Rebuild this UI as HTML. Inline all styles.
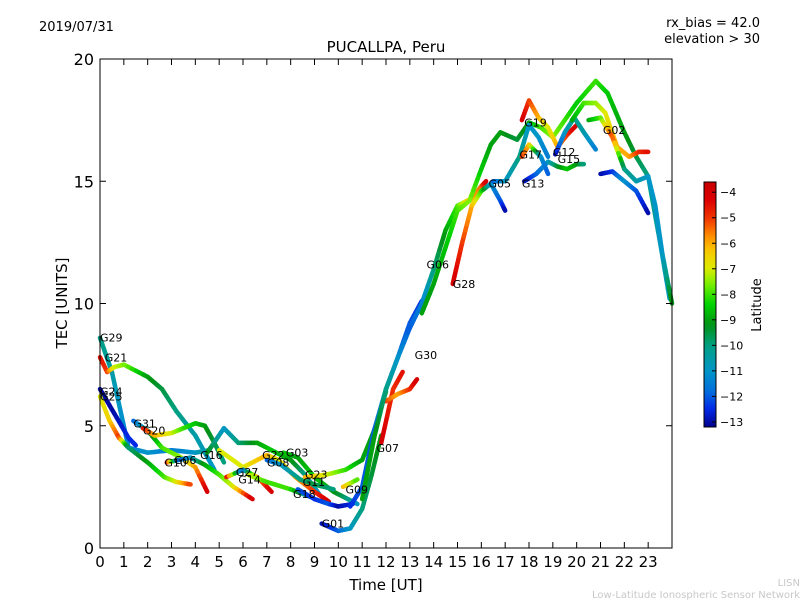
<!DOCTYPE html>
<html><head><meta charset="utf-8"><style>
body{margin:0;background:#fff;}
svg{display:block;font-family:"DejaVu Sans","Liberation Sans",sans-serif;}
</style></head><body>
<svg id="chart" width="800" height="600">
<rect width="800" height="600" fill="#fff"/>
<text x="39" y="31" font-size="13">2019/07/31</text>
<text x="760" y="27" font-size="13" text-anchor="end">rx_bias = 42.0</text>
<text x="760" y="43" font-size="13" text-anchor="end">elevation &gt; 30</text>
<text x="386" y="52" font-size="15" text-anchor="middle">PUCALLPA, Peru</text>
<text x="386" y="590" font-size="15" text-anchor="middle">Time [UT]</text>
<text transform="translate(67,303) rotate(-90)" font-size="15" text-anchor="middle">TEC [UNITS]</text>
<text x="800" y="586" font-size="10" fill="#c8c8c8" text-anchor="end">LISN</text>
<text x="800" y="598" font-size="10" fill="#c8c8c8" text-anchor="end">Low-Latitude Ionospheric Sensor Network</text>
<g id="marks"></g>
<g id="axes"></g>
<g id="cbar"></g>
<text transform="translate(761,305) rotate(-90)" font-size="13" text-anchor="middle">Latitude</text>
</svg>
<script>
const xTicks=[0,1,2,3,4,5,6,7,8,9,10,11,12,13,14,15,16,17,18,19,20,21,22,23];
const yTicks=[0,5,10,15,20];
const cbarTicks=[-4,-5,-6,-7,-8,-9,-10,-11,-12,-13];
// each track: [time, tec, latitude]
const tG29=[[0,8.6,-10],[0.5,7.2,-10.5],[1.2,4.1,-11.5],[2,3.9,-11],[3,4.0,-11.5],[4,3.9,-11],[4.6,4.0,-10]];
const tG21=[[0,7.8,-4.5],[0.3,7.2,-5],[0.6,7.4,-7],[1,7.5,-7.5],[2,7.0,-9],[2.6,6.5,-9.5],[3.2,5.6,-10],[4,4.6,-10.5],[4.8,3.2,-11]];
const tG24=[[0,6.5,-13],[0.6,5.5,-13],[1.2,4.5,-12.5],[1.5,4.2,-12.5]];
const tG25=[[0,6.2,-7],[0.4,5.2,-6.5],[0.8,4.5,-5],[1.2,4.1,-10],[2,3.5,-9],[2.7,2.9,-8],[3.2,2.7,-7],[3.8,2.6,-5]];
const tG31=[[1.4,5.2,-12],[2,4.8,-10],[2.6,4.1,-8],[3.4,3.7,-7.5],[4,3.3,-6],[4.5,2.3,-4]];
const tG20=[[1.8,4.9,-4.5],[2.3,4.6,-6],[3,4.7,-7],[3.5,4.9,-8],[4,5.1,-8.5],[4.4,5.0,-9],[4.8,4.3,-9.5],[5.2,3.5,-10]];
const tG10=[[2.8,3.5,-4],[3.3,3.6,-12],[3.8,3.7,-11],[4.4,3.4,-9],[5,3.0,-8],[5.6,2.5,-7],[6.4,2.0,-4]];
const tG16=[[4.5,3.9,-9],[5.2,4.9,-11],[5.8,4.3,-10],[6.6,4.3,-9],[7.2,4.0,-8.5],[8,3.6,-9],[8.6,3.0,-10],[9.2,2.2,-11]];
const tG22=[[5,4.0,-7],[6,3.3,-7],[7,3.8,-6],[7.5,3.6,-7],[8.2,2.9,-6],[9,2.3,-5],[9.6,1.9,-4]];
const tG03=[[7.7,3.9,-8.5],[8.3,3.7,-9],[9,2.9,-8.5],[9.8,2.3,-9],[10.4,2.0,-10],[10.8,1.8,-11]];
const tG08=[[7,3.6,-12],[7.6,3.4,-11],[8.4,2.8,-10],[9,2.6,-9.5],[9.8,2.4,-10]];
const tG27=[[5.3,2.9,-4],[6,3.2,-12],[6.6,2.9,-6],[7.2,2.3,-4]];
const tG14=[[6.2,3.0,-7],[7,2.7,-8],[8,2.4,-8],[8.8,2.1,-11]];
const tG18=[[8.3,2.4,-12],[9,2.0,-12.5],[9.6,1.8,-12],[10,1.7,-13],[10.6,1.8,-12.5]];
const tG23=[[8.6,2.9,-6],[9.5,3.0,-7],[10.3,3.2,-8],[11,3.6,-9],[11.5,4.8,-9],[12,6.4,-9]];
const tG01=[[9.3,1.0,-13],[10,0.7,-12],[10.5,0.8,-11],[11,1.6,-10],[11.4,3.0,-9.5],[11.8,4.6,-9]];
const tG09=[[10.2,2.5,-6],[10.8,2.8,-8]];
const tG07=[[11.8,4.3,-4],[12.3,6.5,-5],[12.7,7.2,-4.5]];
const tG30=[[12,6,-5],[12.5,6.3,-6],[13,6.5,-5],[13.3,6.9,-4]];
const tRise1=[[10.5,1.7,-12.5],[11,2.5,-12],[11.5,4.8,-12],[12,6.5,-11],[12.5,7.8,-12],[13,9.2,-12],[13.5,10.1,-12.5]];
const tRise2=[[11,2,-9],[11.5,4.5,-9],[12,6.5,-10],[12.5,7.8,-11],[13,9,-12],[13.5,10,-11.5],[14,11.4,-10],[14.5,13,-9],[15,14,-8],[15.6,14.3,-6],[16,14.8,-5.5],[16.2,15.0,-4]];
const tG06=[[13.5,9.6,-9],[14,10.8,-9],[14.6,12.6,-8.5],[15,13.8,-8],[15.5,14.2,-7.5],[16,15.5,-8.5],[16.4,16.5,-9],[16.8,17.0,-9],[17.5,16.7,-9.5],[18,17.4,-9],[18.5,17.2,-8],[19,16.8,-7.5],[19.5,17.5,-8],[20,18.2,-8.5],[20.8,19.1,-8],[21.3,18.6,-8.5],[22,17.0,-9],[22.5,16.0,-9.5],[23,15.2,-10],[23.5,12.5,-10.5],[23.9,10.2,-11]];
const tG28=[[14.8,10.8,-4],[15.2,12.5,-5],[15.6,14,-6],[16,14.6,-8],[16.4,14.9,-11],[16.8,14.2,-12],[17,13.8,-13]];
const tG05=[[16.5,15,-12],[17,15,-11],[17.6,16,-10],[18,17.3,-11],[18.4,16.8,-11],[18.8,16,-11.5]];
const tG13=[[17.8,15,-13],[18.3,15.3,-12],[18.8,15.8,-11],[19.2,15.6,-9.5],[19.6,15.5,-8.5],[20,15.7,-9],[20.3,15.7,-10]];
const tG19=[[17.7,17.5,-4],[18,18.3,-5],[18.4,17.6,-6],[18.8,17.2,-7],[19.2,16.4,-6],[19.6,16.9,-5],[20,17.3,-4]];
const tG17=[[17.7,16,-5],[18,16.5,-6],[18.5,16,-11],[18.8,15.3,-12]];
const tG12=[[19.1,16.1,-13],[19.5,17,-11],[19.9,17.6,-10],[20.3,17,-10.5],[20.8,16.3,-11.5]];
const tG02=[[19.8,17.5,-9],[20.3,18.2,-8],[20.8,18.2,-7.5],[21.2,17.8,-7],[21.7,16.4,-6],[22.2,16.0,-6],[22.6,16.2,-5],[23,16.2,-4.5]];
const tG02b=[[20.5,17.5,-9],[21,17.6,-8],[21.5,16.8,-5],[22,15.5,-10],[22.5,15.0,-10.5],[23,15.2,-11],[23.3,14.0,-11],[23.6,12,-11],[24,10,-9]];
const tBlue=[[21,15.3,-13],[21.5,15.4,-12.5],[22,15,-11],[22.5,14.6,-12],[23,13.7,-13]];
const tracks=[tG29,tG21,tG24,tG25,tG31,tG20,tG10,tG16,tG22,tG03,tG08,tG27,tG14,tG18,tG23,tG01,tG09,tG07,tG30,tRise1,tRise2,tG06,tG28,tG05,tG13,tG19,tG17,tG12,tG02,tG02b,tBlue];
const labelNames=["G29","G21","G24","G25","G31","G20","G10","G06","G16","G22","G03","G08","G27","G14","G18","G23","G11","G01","G09","G07","G30","G06","G28","G05","G13","G19","G17","G12","G15","G02"];
const labelT=[0,0.2,0,0,1.4,1.8,2.7,3.1,4.2,6.8,7.8,7,5.7,5.8,8.1,8.6,8.5,9.3,10.3,11.6,13.2,13.7,14.8,16.3,17.7,17.8,17.6,19,19.2,21.1];
const labelV=[8.6,7.8,6.4,6.2,5.1,4.8,3.5,3.6,3.8,3.8,3.9,3.5,3.1,2.8,2.2,3.0,2.7,1.0,2.4,4.1,7.9,11.6,10.8,14.9,14.9,17.4,16.1,16.2,15.9,17.1];

const X0=100,X1=672,Y0=548,Y1=59;
const xs=t=>X0+(X1-X0)*t/24;
const ys=v=>Y0-(Y0-Y1)*v/20;
const CB={x:704,w:12,top:182,bot:427,lo:-13.2,hi:-3.6};
const cs=l=>CB.bot-(CB.bot-CB.top)*(l-CB.lo)/(CB.hi-CB.lo);
const cmapStops=[[-13.2,[0,0,140]],[-12.5,[0,40,230]],[-11.8,[0,110,220]],[-11,[0,150,200]],[-10,[0,160,130]],[-9.2,[0,145,20]],[-8.4,[0,210,0]],[-7.6,[120,240,0]],[-7,[220,235,0]],[-6.3,[250,200,0]],[-5.7,[255,140,0]],[-5,[240,50,0]],[-4.3,[220,0,0]],[-3.6,[200,0,0]]];
function jet(l){
 if(l<=cmapStops[0][0])return `rgb(${cmapStops[0][1]})`;
 for(let i=0;i<cmapStops.length-1;i++){const a=cmapStops[i],b=cmapStops[i+1];
  if(l<=b[0]){const u=(l-a[0])/(b[0]-a[0]);const c=a[1].map((v,k)=>Math.round(v+(b[1][k]-v)*u));return `rgb(${c})`;}}
 return `rgb(${cmapStops[cmapStops.length-1][1]})`;}
const NS="http://www.w3.org/2000/svg";
function mk(tag,attrs,parent){const e=document.createElementNS(NS,tag);for(const k in attrs)e.setAttribute(k,attrs[k]);parent.appendChild(e);return e;}
const marks=document.getElementById('marks');
tracks.forEach((tr)=>{
 const g=mk('g',{},marks);
 
 
 for(let i=0;i<tr.length-1;i++){
  const a=tr[i],b=tr[i+1],n=6;
  for(let k=0;k<n;k++){
   const u0=k/n,u1=(k+1)/n;
   const l=a[2]+(b[2]-a[2])*(u0+u1)/2;
   const ln=mk('line',{x1:xs(a[0]+(b[0]-a[0])*u0),y1:ys(a[1]+(b[1]-a[1])*u0),x2:xs(a[0]+(b[0]-a[0])*u1),y2:ys(a[1]+(b[1]-a[1])*u1),stroke:jet(l),'stroke-width':4.5,'stroke-linecap':'round'},g);
   
   
  }
 }
});
labelNames.forEach((n,i)=>{
 const t=mk('text',{x:xs(labelT[i]),y:ys(labelV[i])+4,'font-size':11},marks);
 t.textContent=n;
 
 
});
const ax=document.getElementById('axes');
const fr=mk('rect',{x:X0,y:Y1,width:X1-X0,height:Y0-Y1,fill:'none',stroke:'#000','stroke-width':1},ax);


xTicks.forEach(t=>{
 const x=xs(t);
 mk('line',{x1:x,y1:Y0,x2:x,y2:Y0-6,stroke:'#000'},ax);
 mk('line',{x1:x,y1:Y1,x2:x,y2:Y1+6,stroke:'#000'},ax);
 const tx=mk('text',{x:x,y:Y0+19,'font-size':15,'text-anchor':'middle'},ax);
 tx.textContent=t;
 
 
});
yTicks.forEach(v=>{
 const y=ys(v);
 mk('line',{x1:X0,y1:y,x2:X0+6,y2:y,stroke:'#000'},ax);
 mk('line',{x1:X1,y1:y,x2:X1-6,y2:y,stroke:'#000'},ax);
 const tx=mk('text',{x:X0-6,y:y+6,'font-size':16,'text-anchor':'end'},ax);
 tx.textContent=v;
 
 
});
const cb=document.getElementById('cbar');
const defs=mk('defs',{},cb);
const gr=mk('linearGradient',{id:'jetg',x1:0,y1:1,x2:0,y2:0},defs);
for(let i=0;i<=40;i++){const l=CB.lo+(CB.hi-CB.lo)*i/40;mk('stop',{offset:i/40,'stop-color':jet(l)},gr);}
const cr=mk('rect',{x:CB.x,y:CB.top,width:CB.w,height:CB.bot-CB.top,fill:'url(#jetg)',stroke:'#000'},cb);


cbarTicks.forEach(l=>{
 const y=cs(l);
 mk('line',{x1:CB.x+CB.w-4,y1:y,x2:CB.x+CB.w,y2:y,stroke:'#000'},cb);
 const tx=mk('text',{x:CB.x+CB.w+4,y:y+4,'font-size':11},cb);
 tx.textContent='\u2212'+Math.abs(l);
 
 
});
</script>
</body></html>
